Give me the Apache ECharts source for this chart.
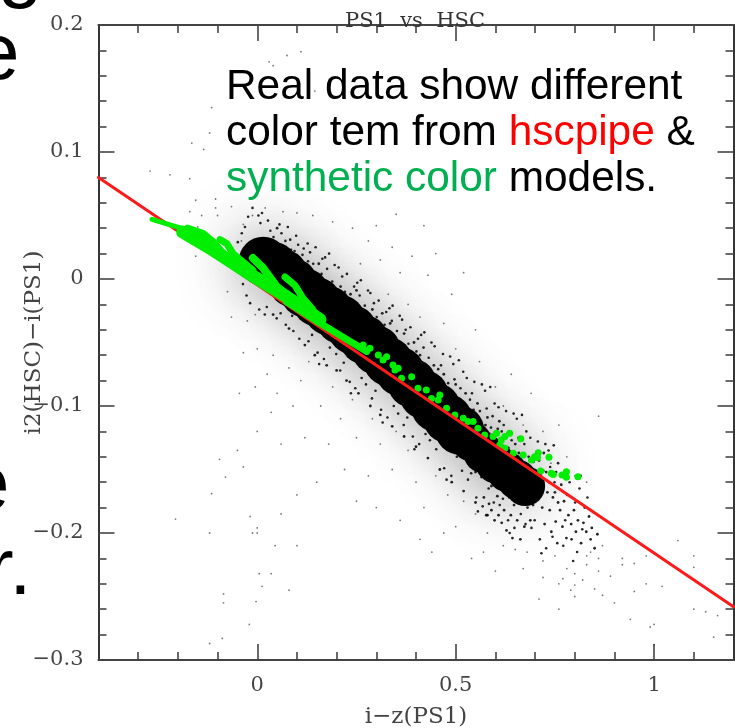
<!DOCTYPE html>
<html><head><meta charset="utf-8">
<style>html,body{margin:0;padding:0;background:#fff}#c{width:735px;height:728px}</style>
<script src="https://cdn.jsdelivr.net/npm/echarts@6/dist/echarts.min.js"></script>
</head><body><div id="c"></div>
<script>
const xMajor=[0,0.5,1];
const xMinor=[-0.3,-0.2,-0.1,0.1,0.2,0.3,0.4,0.6,0.7,0.8,0.9,1.1];
const yMajor=[-0.2,-0.1,0,0.1];
const yMinor=[-0.28,-0.26,-0.24,-0.22,-0.18,-0.16,-0.14,-0.12,-0.08,-0.06,-0.04,-0.02,0.02,0.04,0.06,0.08,0.12,0.14,0.16,0.18];
const yLbl=[-0.3,-0.2,-0.1,0,0.1,0.2];
const xLabels={"0":"0","0.5":"0.5","1":"1"};
const fitLine=[[-0.4,0.08],[1.2,-0.258]];
const coreWide=[[0.015,0.014],[0.04,0.01],[0.065,0.004],[0.09,-0.003],[0.12,-0.011],[0.15,-0.018],[0.18,-0.025],[0.21,-0.032],[0.24,-0.04],[0.27,-0.048],[0.3,-0.056],[0.33,-0.065],[0.36,-0.073],[0.39,-0.082],[0.42,-0.091],[0.45,-0.101],[0.48,-0.11],[0.51,-0.119]];
const coreNarrow=[[0.54,-0.128],[0.57,-0.137],[0.6,-0.145],[0.63,-0.152],[0.655,-0.158],[0.675,-0.163]];
const haloRidge=[[0.0,0.016],[0.06,0.006],[0.12,-0.01],[0.18,-0.024],[0.24,-0.039],[0.3,-0.055],[0.36,-0.072],[0.42,-0.09],[0.48,-0.109],[0.54,-0.127],[0.6,-0.145],[0.65,-0.157]];
const grain=[
[-0.031,0.041],[0.012,0.052],[-0.018,-0.019],[0.027,0.046],[-0.044,0.017],[0.005,-0.024],[-0.023,0.049],[0.033,0.038],[-0.057,0.008],[0.019,-0.028],[-0.036,-0.004],[0.041,0.033],[-0.012,0.056],[-0.049,0.029],[0.008,0.044],[-0.027,-0.013],[0.024,-0.022],[-0.039,0.036],[0.003,0.05],[-0.062,0.021],
[0.061,0.036],[0.103,0.027],[0.072,-0.036],[0.114,0.019],[0.056,0.043],[0.091,-0.041],[0.083,0.031],[0.122,-0.033],[0.067,0.024],[0.098,0.034],[0.049,-0.031],[0.117,0.024],[0.077,0.041],[0.106,-0.047],[0.088,-0.029],[0.059,-0.027],[0.111,0.009],[0.094,0.022],[0.128,0.014],[0.071,0.03],
[0.141,0.012],[0.176,0.008],[0.152,-0.058],[0.189,-0.002],[0.133,0.021],[0.168,-0.063],[0.147,0.025],[0.183,-0.054],[0.162,0.004],[0.195,0.011],[0.129,-0.049],[0.171,0.017],[0.156,-0.067],[0.199,-0.059],[0.138,-0.044],[0.181,0.02],[0.149,0.001],[0.164,0.016],[0.192,-0.008],[0.127,0.028],
[0.221,-0.01],[0.258,-0.013],[0.233,-0.081],[0.271,-0.021],[0.214,0.002],[0.247,-0.086],[0.226,0.004],[0.263,-0.078],[0.241,-0.017],[0.279,-0.009],[0.209,-0.072],[0.252,-0.003],[0.236,-0.09],[0.274,-0.083],[0.218,-0.066],[0.261,-0.001],[0.229,-0.02],[0.244,-0.006],[0.268,-0.028],[0.205,0.009],
[0.301,-0.03],[0.339,-0.033],[0.312,-0.103],[0.352,-0.041],[0.294,-0.019],[0.328,-0.109],[0.306,-0.017],[0.344,-0.1],[0.321,-0.036],[0.359,-0.029],[0.289,-0.094],[0.333,-0.023],[0.316,-0.113],[0.355,-0.106],[0.298,-0.088],[0.341,-0.021],[0.309,-0.04],[0.325,-0.026],[0.348,-0.048],[0.285,-0.011],
[0.381,-0.051],[0.419,-0.054],[0.392,-0.124],[0.432,-0.062],[0.374,-0.04],[0.408,-0.13],[0.386,-0.038],[0.424,-0.122],[0.401,-0.057],[0.439,-0.05],[0.369,-0.115],[0.413,-0.044],[0.396,-0.134],[0.435,-0.127],[0.378,-0.109],[0.421,-0.042],[0.389,-0.061],[0.405,-0.047],[0.428,-0.069],[0.365,-0.032],
[0.463,-0.068],[0.497,-0.079],[0.471,-0.149],[0.512,-0.086],[0.456,-0.071],[0.489,-0.155],[0.468,-0.059],[0.503,-0.14],[0.481,-0.082],[0.519,-0.073],[0.451,-0.134],[0.494,-0.067],[0.477,-0.158],[0.516,-0.151],[0.459,-0.128],[0.508,-0.064],[0.474,-0.087],[0.486,-0.061],[0.506,-0.094],[0.447,-0.053],
[0.541,-0.09],[0.578,-0.102],[0.552,-0.172],[0.593,-0.108],[0.536,-0.095],[0.568,-0.179],[0.547,-0.081],[0.583,-0.165],[0.561,-0.104],[0.598,-0.098],[0.531,-0.158],[0.574,-0.088],[0.556,-0.183],[0.596,-0.176],[0.539,-0.153],[0.587,-0.085],[0.553,-0.11],[0.566,-0.083],[0.589,-0.117],[0.528,-0.078],
[0.621,-0.115],[0.658,-0.125],[0.632,-0.19],[0.673,-0.13],[0.616,-0.12],[0.648,-0.196],[0.627,-0.104],[0.664,-0.185],[0.641,-0.127],[0.678,-0.12],[0.611,-0.178],[0.654,-0.11],[0.636,-0.2],[0.676,-0.193],[0.619,-0.173],[0.667,-0.107],[0.633,-0.133],[0.646,-0.106],[0.669,-0.138],[0.608,-0.101],
[0.701,-0.14],[0.738,-0.148],[0.712,-0.205],[0.753,-0.152],[0.696,-0.144],[0.728,-0.212],[0.707,-0.128],[0.744,-0.203],[0.721,-0.151],[0.758,-0.145],[0.691,-0.196],[0.734,-0.135],[0.716,-0.216],[0.756,-0.208],[0.699,-0.19],[0.747,-0.131],[0.713,-0.156],[0.726,-0.13],[0.749,-0.16],[0.688,-0.125],
[0.781,-0.17],[0.812,-0.165],[0.792,-0.205],[0.825,-0.18],[0.776,-0.19],[0.806,-0.215],[0.787,-0.16],[0.819,-0.197],[0.801,-0.176],[0.832,-0.172],[0.771,-0.21],[0.815,-0.155],[0.796,-0.222],[0.84,-0.205]
];
const grainEnd=[
[0.702,-0.163],[0.718,-0.18],[0.709,-0.172],[0.731,-0.168],[0.724,-0.193],[0.737,-0.182],[0.745,-0.172],[0.752,-0.191],[0.741,-0.199],[0.763,-0.182],[0.758,-0.176],[0.769,-0.195],[0.773,-0.175],[0.779,-0.204],[0.784,-0.186],[0.791,-0.193],[0.798,-0.182],[0.803,-0.199],[0.808,-0.19],[0.816,-0.208],[0.822,-0.192],[0.829,-0.199],[0.836,-0.187],[0.843,-0.196],[0.85,-0.212],[0.857,-0.201],[0.695,-0.178],[0.688,-0.19],[0.681,-0.18],[0.673,-0.195],[0.667,-0.172],[0.663,-0.205],[0.655,-0.19],[0.647,-0.178],[0.643,-0.204],[0.639,-0.186],[0.628,-0.198],[0.622,-0.182],[0.616,-0.192],[0.608,-0.186],[0.605,-0.171],[0.598,-0.19],[0.59,-0.182],[0.584,-0.177],[0.577,-0.186],[0.571,-0.172],[0.659,-0.137],[0.665,-0.148],[0.684,-0.14],[0.692,-0.151],[0.676,-0.145],[0.71,-0.143],[0.728,-0.152],[0.722,-0.137],[0.735,-0.16],[0.75,-0.168],[0.766,-0.162],
[0.05,0.04],[0.085,0.023],[0.035,0.029],[0.13,0.009],[0.155,0.012],[0.175,-0.003],[0.21,-0.006],[0.235,-0.012],[0.25,-0.009],[0.29,-0.024],[0.315,-0.027],[0.335,-0.035],[0.37,-0.043],[0.395,-0.05],[0.41,-0.06],[0.445,-0.068],[0.47,-0.075],[0.5,-0.083],[0.525,-0.09],[0.555,-0.098],[0.58,-0.109],[0.61,-0.112],[0.63,-0.122],[0.65,-0.13],
[0.04,-0.028],[0.08,-0.039],[0.12,-0.052],[0.145,-0.06],[0.175,-0.068],[0.2,-0.072],[0.225,-0.08],[0.255,-0.09],[0.285,-0.1],[0.31,-0.107],[0.34,-0.116],[0.37,-0.124],[0.4,-0.132],[0.43,-0.141],[0.46,-0.15],[0.49,-0.16],[0.52,-0.167],[0.55,-0.176],[0.58,-0.186],
[0.545,-0.103],[0.56,-0.118],[0.575,-0.115],[0.535,-0.11],[0.585,-0.122],[0.598,-0.125],[0.606,-0.118],[0.617,-0.131],[0.59,-0.163],[0.605,-0.16],[0.62,-0.165],[0.565,-0.156],[0.55,-0.152],[0.635,-0.172],[0.648,-0.17],[0.662,-0.176]
];
const sparse=[
[0.03,0.158],[0.04,0.168],[0.03,0.171],[0.075,0.176],[0.11,0.179],[0.145,0.148],[-0.115,0.135],[-0.12,0.115],[-0.165,0.107],[-0.135,0.102],[-0.27,0.085],[-0.22,0.082],[-0.17,0.079],[-0.105,0.063],[-0.17,0.053],[-0.155,0.062],[-0.105,0.056],[-0.14,0.05],[-0.1,0.05],[-0.065,0.057],[-0.15,0.041],[-0.155,0.018],[-0.12,0.02],[-0.035,0.043],[-0.04,0.03],[-0.012,0.05],[0.02,0.056],[0.065,0.053],[0.1,0.052],[0.14,0.05],[0.19,0.045],[0.24,0.04],[0.3,0.042],[0.35,0.051],[0.42,0.042],[0.28,0.03],[0.34,0.025],[0.39,0.018],[0.45,0.02],[0.36,0.005],[0.43,0.003],[0.49,-0.012],[0.52,0.005],[0.31,0.015],[0.26,0.012],[0.33,-0.012],[0.38,-0.02],[0.41,-0.03],[0.47,-0.035],[0.55,-0.04],[0.5,-0.055],[0.56,-0.065],[0.6,-0.085],[0.64,-0.075],[0.69,-0.09],[0.62,-0.1],[0.67,-0.115],[0.72,-0.12],[0.76,-0.115],[0.86,-0.108],[0.74,-0.145],[0.78,-0.14],[0.8,-0.155],[0.83,-0.16],[-0.075,-0.01],[-0.065,-0.03],[-0.025,-0.033],[-0.005,-0.028],[-0.035,-0.058],[0.0,-0.055],[0.04,-0.06],[0.025,-0.075],[-0.045,-0.09],[-0.005,-0.085],[0.05,-0.09],[0.08,-0.07],[0.11,-0.08],[0.13,-0.065],[0.09,-0.1],[0.035,-0.105],[0.0,-0.12],[-0.05,-0.135],[0.06,-0.13],[0.12,-0.125],[0.16,-0.1],[0.19,-0.085],[0.21,-0.11],[0.24,-0.095],[0.18,-0.13],[0.25,-0.125],[0.29,-0.11],[0.31,-0.13],[0.35,-0.12],[0.38,-0.135],[0.22,-0.15],[0.28,-0.155],[0.34,-0.15],[0.4,-0.16],[0.45,-0.155],[0.42,-0.18],[0.48,-0.17],[0.52,-0.175],[0.55,-0.185],[0.5,-0.195],[-0.095,-0.142],[-0.035,-0.148],[-0.115,-0.169],[-0.08,-0.156],[-0.018,-0.187],[-0.012,-0.2],[0.0,-0.196],[-0.206,-0.189],[-0.12,-0.2],[0.0,-0.2],[0.045,-0.21],[0.035,-0.232],[0.005,-0.232],[0.012,-0.242],[-0.085,-0.255],[-0.085,-0.248],[-0.003,-0.254],[-0.02,-0.272],[-0.12,-0.287],[-0.088,-0.283],[0.58,-0.2],[0.62,-0.21],[0.65,-0.213],[0.68,-0.215],[0.72,-0.222],[0.75,-0.218],[0.78,-0.228],[0.8,-0.232],[0.83,-0.218],[0.86,-0.22],[0.77,-0.236],[0.8,-0.241],[0.84,-0.215],[0.87,-0.21],[0.79,-0.245],[0.72,-0.235],[0.76,-0.24],[0.82,-0.237],[0.83,-0.225],[0.86,-0.23],[0.89,-0.234],[0.92,-0.22],[0.95,-0.224],[0.98,-0.218],[0.92,-0.225],[0.98,-0.24],[1.03,-0.222],[1.06,-0.206],[1.1,-0.218],[1.1,-0.227],[1.16,-0.265],[1.1,-0.26],[1.13,-0.262],[0.94,-0.268],[0.99,-0.274],[1.0,-0.272],[0.76,-0.26],[0.8,-0.25],[0.85,-0.244],[0.87,-0.249],[0.9,-0.255],[0.95,-0.246],[1.02,-0.242],[1.15,-0.282],[1.0,-0.288],[0.71,-0.252],[0.67,-0.228],[0.6,-0.23],[0.57,-0.215],[0.54,-0.22],[0.47,-0.2],[0.44,-0.215],[0.41,-0.205],[0.36,-0.19],[0.3,-0.18],[0.25,-0.175],[0.15,-0.16],[0.1,-0.17],[0.06,-0.185],[0.1,-0.21],[0.08,-0.245]
];
const synthTip=[[-0.265,0.047],[-0.203,0.041],[-0.17,0.038]];
const synthBand=[[-0.188,0.037],[-0.12,0.0245],[-0.061,0.0126],[-0.011,0.0024],[0.074,-0.014],[0.158,-0.032]];
const synthLow=[[0.074,-0.018],[0.175,-0.038],[0.276,-0.057]];
const synthBump=[[-0.175,0.04],[-0.137,0.036],[-0.11,0.029],[-0.08,0.018]];
const synthB1=[[-0.094,0.031],[-0.077,0.028],[-0.061,0.02],[-0.011,0.007]];
const synthB2=[[-0.011,0.0165],[0.014,0.009],[0.049,-0.006],[0.09,-0.0165]];
const synthB3=[[0.07,0.0016],[0.095,-0.005],[0.115,-0.015],[0.14,-0.024]];
const synthPts=[[0.267,-0.052],[0.284,-0.0546],[0.305,-0.0598],[0.317,-0.0638],[0.326,-0.0612],[0.342,-0.0677],[0.347,-0.0717],[0.355,-0.0703],[0.3635,-0.0782],[0.389,-0.0769],[0.405,-0.0861],[0.426,-0.0874],[0.439,-0.094],[0.456,-0.0953],[0.46,-0.0913],[0.477,-0.1018],[0.498,-0.1071],[0.519,-0.1097],[0.531,-0.1123],[0.544,-0.1123],[0.556,-0.1176],[0.573,-0.1228],[0.594,-0.1241],[0.603,-0.1215],[0.615,-0.1268],[0.636,-0.1215],[0.624,-0.1241],[0.664,-0.1257],[0.611,-0.1307],[0.624,-0.1333],[0.645,-0.1372],[0.67,-0.1386],[0.691,-0.1425],[0.708,-0.1368],[0.699,-0.1399],[0.706,-0.1407],[0.735,-0.1404],[0.714,-0.1512],[0.741,-0.153],[0.746,-0.154],[0.768,-0.1543],[0.779,-0.1517],[0.779,-0.1561],[0.808,-0.1557]];
const serif='"DejaVu Serif"';
function xA(pos,vals,len,labels){return {type:'value',position:pos,min:-0.4,max:1.2,interval:0.1,splitLine:{show:false},axisLine:{onZero:false,show:true,lineStyle:{color:'#444',width:1.8}},axisTick:{show:true,inside:true,length:len,customValues:vals,lineStyle:{color:'#444',width:1.6}},axisLabel:labels?{show:true,customValues:vals,margin:15,formatter:v=>xLabels[String(Math.round(v*10)/10)]??'',fontFamily:serif,fontSize:21,color:'#444'}:{show:false},name:labels?'i\u2212z(PS1)':'',nameLocation:'middle',nameGap:46,nameMoveOverlap:false,nameTextStyle:{fontFamily:serif,fontSize:23,color:'#444'}};}
function yA(pos,vals,len,labels){return {type:'value',position:pos,min:-0.3,max:0.2,interval:0.1,splitLine:{show:false},axisLine:{onZero:false,show:true,lineStyle:{color:'#333',width:1.8}},axisTick:{show:true,inside:true,length:len,customValues:vals,lineStyle:{color:'#444',width:1.6}},axisLabel:labels?{show:true,customValues:vals,margin:15,padding:[3,0,0,0],formatter:v=>{const r=Math.round(v*10)/10;return r===0?'0':String(r).replace('-','\u2212');},fontFamily:serif,fontSize:21,color:'#444'}:{show:false},name:labels?'i2(HSC)\u2212i(PS1)':'',nameLocation:'middle',nameGap:53,nameMoveOverlap:false,nameTextStyle:{fontFamily:serif,fontSize:23,color:'#444'}};}
const scatter=(d,size,color,op)=>({type:'scatter',data:d,symbolSize:size,itemStyle:{color,opacity:op},silent:true,animation:false});
const line=(d,w,color)=>({type:'line',data:d,symbol:'none',smooth:false,lineStyle:{width:w,color,cap:'round',join:'round'},silent:true,animation:false});
const glow={type:'scatter',data:haloRidge,symbolSize:34,itemStyle:{color:'#000',shadowBlur:60,shadowColor:'rgba(0,0,0,0.85)'},silent:true,animation:false};
const chart=echarts.init(document.getElementById('c'),null,{renderer:'canvas'});
chart.setOption({animation:false,backgroundColor:'#fff',
 title:{text:'PS1  vs  HSC',left:410,top:6,textAlign:'center',textStyle:{fontFamily:serif,fontSize:21,fontWeight:'normal',color:'#333'}},
 grid:{left:98.5,top:25,width:635,height:635,containLabel:false,outerBoundsMode:'none'},
 xAxis:[xA('bottom',xMajor,16,true),xA('bottom',xMinor,8,false),xA('top',xMajor,16,false),xA('top',xMinor,8,false)],
 yAxis:[yA('left',yLbl,16,true),yA('left',yMinor,8,false),yA('right',yMajor,16,false),yA('right',yMinor,8,false)],
 series:[
  glow,
  scatter(sparse,1.8,'#333',0.65),
  scatter(coreWide,49,'#000',1),
  scatter(coreNarrow,40,'#000',1),
  scatter(grain,2.6,'#000',0.85),
  scatter(grainEnd,2.8,'#000',0.85),
  line(fitLine,3,'#ff1a1a'),
  line(synthTip,5,'#00ee00'),line(synthBand,13,'#00ee00'),line(synthLow,7,'#00ee00'),line(synthBump,7,'#00ee00'),line(synthB1,7,'#00ee00'),line(synthB2,8,'#00ee00'),line(synthB3,7,'#00ee00'),
  scatter(synthPts,7,'#00ee00',1)
 ],
 graphic:[
  {type:'text',left:-2,top:-70,style:{text:'g',font:'80px "Liberation Sans"',fill:'#000'}},
  {type:'text',left:-25,top:17,style:{text:'e',font:'80px "Liberation Sans"',fill:'#000'}},
  {type:'text',left:-35,top:448,style:{text:'e',font:'80px "Liberation Sans"',fill:'#000'}},
  {type:'text',left:-13,top:532,style:{text:'r.',font:'80px "Liberation Sans"',fill:'#000'}},
  {type:'text',left:226,top:66,style:{text:'Real data show different',font:'42.4px "Liberation Sans"',fill:'#000'}},
  {type:'text',left:226,top:112,style:{rich:{a:{font:'42.4px "Liberation Sans"',fill:'#000'},b:{font:'42.4px "Liberation Sans"',fill:'#ff0000'}},text:'{a|color tem from }{b|hscpipe}{a| &}'}},
  {type:'text',left:226,top:158,style:{rich:{a:{font:'42.4px "Liberation Sans"',fill:'#000'},g:{font:'42.4px "Liberation Sans"',fill:'#00b050'}},text:'{g|synthetic color}{a| models.}'}}
 ]
});
</script></body></html>
